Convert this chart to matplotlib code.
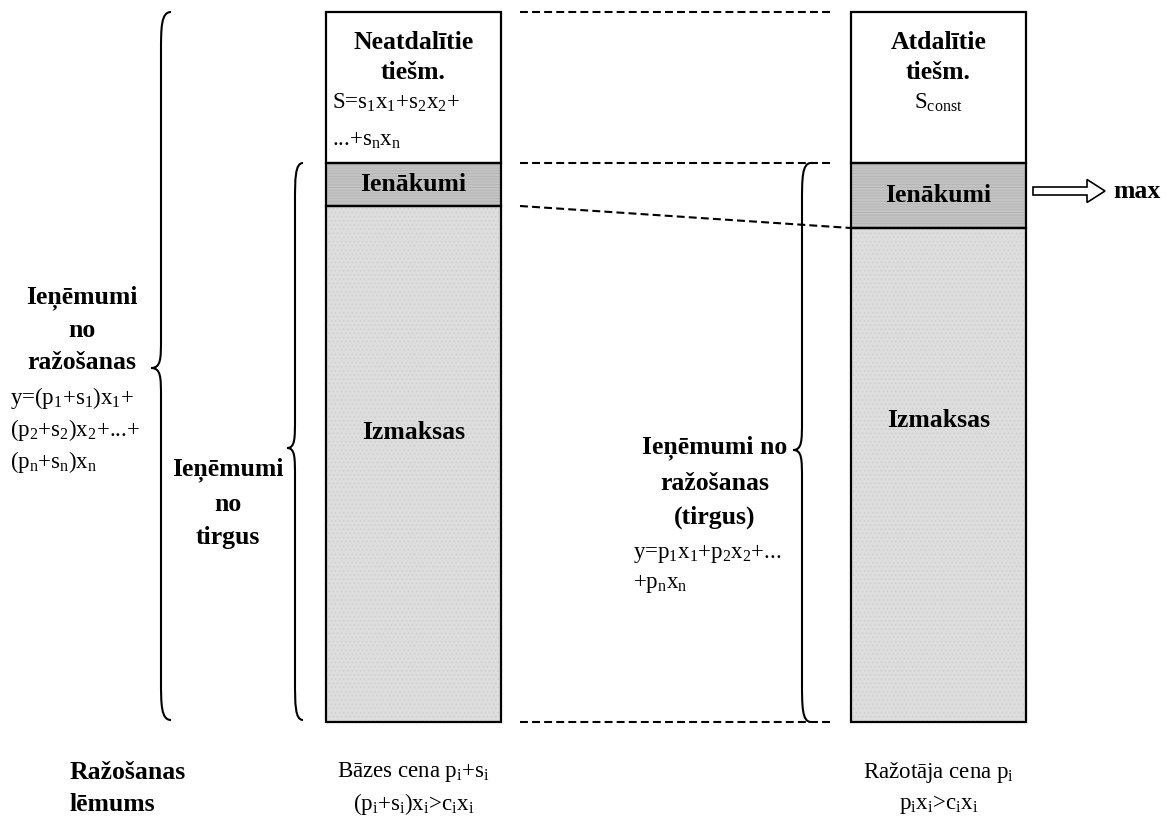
import matplotlib
matplotlib.use("Agg")
import matplotlib.pyplot as plt
from matplotlib.path import Path
from matplotlib.patches import PathPatch, FancyArrow

plt.rcParams['font.family'] = ['Liberation Serif', 'DejaVu Serif']
plt.rcParams['mathtext.fontset'] = 'custom'
plt.rcParams['mathtext.rm'] = 'Liberation Serif'
plt.rcParams['mathtext.default'] = 'regular'
plt.rcParams['hatch.linewidth'] = 0.6

# --- data: two stacked columns (segment heights, bottom -> top) ---
columns  = ["Bāzes cena", "Ražotāja cena"]
costs    = [516, 494]      # Izmaksas
income   = [43, 65]        # Ienākumi
subsidy  = [151, 151]      # Neatdalītie / Atdalītie tiešm.
top_lbl  = [("Neatdalītie", "tiešm."), ("Atdalītie", "tiešm.")]
bottom_1 = ["Bāzes cena p$_i$+s$_i$", "Ražotāja cena p$_i$"]
bottom_2 = ["(p$_i$+s$_i$)x$_i$>c$_i$x$_i$", "p$_i$x$_i$>c$_i$x$_i$"]

# layout (pixel based, y measured upward from column base)
BASE = 722
W, H = 1175, 821
bar_x = [413.5, 938.5]
bar_w = 175
BOLD = 18.5
REG = 16.5


def py(p):
    """pixel row -> data y"""
    return BASE - p


def brace(ax, x_end, x_tip, y_top, y_bot, y_mid, r_end=40, r_mid=30, lw=1.5):
    sp = (x_end + x_tip) / 2
    verts = [
        (x_end, y_top), (sp, y_top), (sp, y_top - 0.4 * r_end), (sp, y_top - r_end),
        (sp, y_mid + r_mid),
        (sp, y_mid + 0.3 * r_mid), (sp, y_mid), (x_tip, y_mid),
        (sp, y_mid), (sp, y_mid - 0.3 * r_mid), (sp, y_mid - r_mid),
        (sp, y_bot + r_end),
        (sp, y_bot + 0.4 * r_end), (sp, y_bot), (x_end, y_bot),
    ]
    codes = [Path.MOVETO, Path.CURVE4, Path.CURVE4, Path.CURVE4,
             Path.LINETO,
             Path.CURVE4, Path.CURVE4, Path.CURVE4,
             Path.CURVE4, Path.CURVE4, Path.CURVE4,
             Path.LINETO,
             Path.CURVE4, Path.CURVE4, Path.CURVE4]
    ax.add_patch(PathPatch(Path(verts, codes), fill=False, lw=lw, ec='black'))


fig = plt.figure(figsize=(W / 100, H / 100), dpi=100)
ax = fig.add_axes([0, 0, 1, 1])
ax.set_xlim(0, W)
ax.set_ylim(BASE - H, BASE)
ax.axis('off')

inc_bottom = costs
sub_bottom = [c + i for c, i in zip(costs, income)]

# fills (hatch drawn in gray), then black outlines
ax.bar(bar_x, costs, width=bar_w, color='#dddddd', edgecolor='#cfcfcf',
       hatch='....', linewidth=0)
ax.bar(bar_x, income, width=bar_w, bottom=inc_bottom, color='#c4c4c4',
       edgecolor='#b4b4b4', hatch='------', linewidth=0)
ax.bar(bar_x, subsidy, width=bar_w, bottom=sub_bottom, color='white', linewidth=0)
for heights, bottoms in [(costs, 0), (income, inc_bottom), (subsidy, sub_bottom)]:
    ax.bar(bar_x, heights, width=bar_w, bottom=bottoms, fill=False,
           edgecolor='black', linewidth=1.6)

# dashed connectors between columns
tops = [s + h for s, h in zip(sub_bottom, subsidy)]
dash = dict(color='black', lw=1.5, dashes=(3.8, 2.0))
x0, x1 = 520, 832
ax.plot([x0, x1], [tops[0], tops[0]], **dash)
ax.plot([x0, x1], [sub_bottom[0], sub_bottom[0]], **dash)
ax.plot([x0, bar_x[1] - bar_w / 2], [costs[0], costs[1]], **dash)
ax.plot([x0, x1], [0, 0], **dash)

# texts inside columns
for i, x in enumerate(bar_x):
    ax.text(x, py(42), top_lbl[i][0], ha='center', va='center', fontsize=BOLD, fontweight='bold')
    ax.text(x, py(72), top_lbl[i][1], ha='center', va='center', fontsize=BOLD, fontweight='bold')
    ax.text(x, inc_bottom[i] + income[i] / 2, "Ienākumi", ha='center', va='center',
            fontsize=BOLD, fontweight='bold')
ax.text(bar_x[0], py(432), "Izmaksas", ha='center', va='center', fontsize=BOLD, fontweight='bold')
ax.text(bar_x[1], py(420), "Izmaksas", ha='center', va='center', fontsize=BOLD, fontweight='bold')
ax.text(332, py(103), "S=s$_1$x$_1$+s$_2$x$_2$+", ha='left', va='center', fontsize=REG)
ax.text(332, py(140), "...+s$_n$x$_n$", ha='left', va='center', fontsize=REG)
ax.text(bar_x[1], py(103), "S$_{const}$", ha='center', va='center', fontsize=REG)

# arrow -> max
ax.add_patch(FancyArrow(1033, py(191), 72, 0, width=8, head_width=23, head_length=18,
                        length_includes_head=True, fc='white', ec='black', lw=1.2))
ax.text(1113, py(191), "max", ha='left', va='center', fontsize=BOLD, fontweight='bold')

# braces
brace(ax, 171, 151, py(12), py(720), py(368))
brace(ax, 303, 287, py(163), py(720), py(448))
brace(ax, 811, 793, py(163), py(722), py(450))

# left labels
for txt, y in [("Ieņēmumi", 298), ("no", 330), ("ražošanas", 362)]:
    ax.text(82, py(y), txt, ha='center', va='center', fontsize=BOLD, fontweight='bold')
for txt, y in [("y=(p$_1$+s$_1$)x$_1$+", 398), ("(p$_2$+s$_2$)x$_2$+...+", 430),
               ("(p$_n$+s$_n$)x$_n$", 462)]:
    ax.text(10, py(y), txt, ha='left', va='center', fontsize=REG)
for txt, y in [("Ieņēmumi", 470), ("no", 504), ("tirgus", 537)]:
    ax.text(228, py(y), txt, ha='center', va='center', fontsize=BOLD, fontweight='bold')

# middle labels
for txt, y in [("Ieņēmumi no", 448), ("ražošanas", 483), ("(tirgus)", 517)]:
    ax.text(715, py(y), txt, ha='center', va='center', fontsize=BOLD, fontweight='bold')
ax.text(633, py(553), "y=p$_1$x$_1$+p$_2$x$_2$+...", ha='left', va='center', fontsize=REG)
ax.text(633, py(583), "+p$_n$x$_n$", ha='left', va='center', fontsize=REG)

# bottom labels
ax.text(70, py(772), "Ražošanas", ha='left', va='center', fontsize=BOLD, fontweight='bold')
ax.text(70, py(804), "lēmums", ha='left', va='center', fontsize=BOLD, fontweight='bold')
for i, x in enumerate(bar_x):
    ax.text(x, py(772), bottom_1[i], ha='center', va='center', fontsize=REG)
    ax.text(x, py(804), bottom_2[i], ha='center', va='center', fontsize=REG)

fig.savefig("out.png", dpi=100)
